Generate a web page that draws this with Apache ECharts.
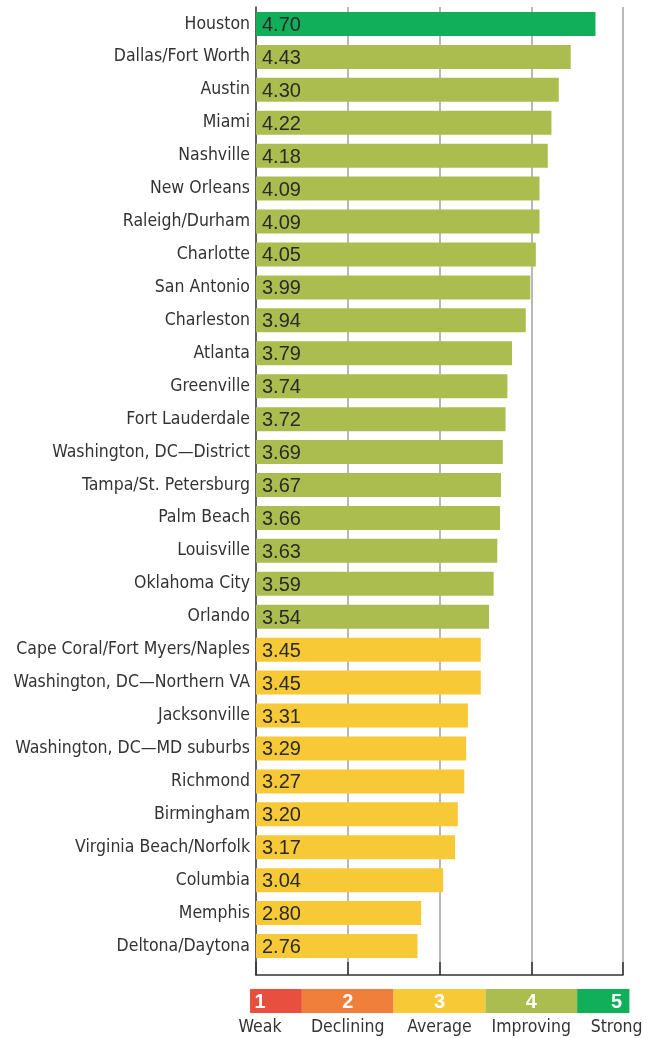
<!DOCTYPE html>
<html>
<head>
<meta charset="utf-8">
<script src="https://cdn.jsdelivr.net/npm/echarts@6/dist/echarts.min.js"></script>
<style>
	html, body { margin: 0; padding: 0; background: #fff; }
	#chart { width: 649px; height: 1038px; }
</style>
</head>
<body>
<div id="chart"></div>
<script>
var cities = ['Houston', 'Dallas/Fort Worth', 'Austin', 'Miami', 'Nashville', 'New Orleans',
	'Raleigh/Durham', 'Charlotte', 'San Antonio', 'Charleston', 'Atlanta', 'Greenville',
	'Fort Lauderdale', 'Washington, DC\u2014District', 'Tampa/St. Petersburg', 'Palm Beach',
	'Louisville', 'Oklahoma City', 'Orlando', 'Cape Coral/Fort Myers/Naples',
	'Washington, DC\u2014Northern VA', 'Jacksonville', 'Washington, DC\u2014MD suburbs',
	'Richmond', 'Birmingham', 'Virginia Beach/Norfolk', 'Columbia', 'Memphis', 'Deltona/Daytona'];
var scores = [4.70, 4.43, 4.30, 4.22, 4.18, 4.09, 4.09, 4.05, 3.99, 3.94, 3.79, 3.74, 3.72,
	3.69, 3.67, 3.66, 3.63, 3.59, 3.54, 3.45, 3.45, 3.31, 3.29, 3.27, 3.20, 3.17, 3.04, 2.80, 2.76];

// rating scale shown under the chart
var scaleBreaks = [0.935, 1.5, 2.5, 3.5, 4.5, 5.07];
var scaleNums = ['1', '2', '3', '4', '5'];
var scaleWords = ['Weak', 'Declining', 'Average', 'Improving', 'Strong'];
var scaleLabelAt = [1.044, 2, 3, 4, 4.93];
var scaleColors = ['#e84f3e', '#ef7f3a', '#f8c936', '#abbd4f', '#12af5b'];

var narrow = "'Liberation Sans Narrow', 'DejaVu Sans Condensed', sans-serif";

function colorFor(v) {
	for (var i = 0; i < scaleColors.length; i++) {
		if (v < scaleBreaks[i + 1]) return scaleColors[i];
	}
	return scaleColors[scaleColors.length - 1];
}

var scaleData = scaleNums.map(function (n, i) {
	return [scaleBreaks[i], scaleBreaks[i + 1], scaleLabelAt[i], i];
});

var myChart = echarts.init(document.getElementById('chart'));
var option = {
	animation: false,
	grid: [
		{ left: 256, right: 26, top: 7.5, height: 955, outerBoundsMode: 'none' },
		{ left: 256, right: 26, top: 7, height: 968, outerBoundsMode: 'none' },
		{ left: 256, right: 26, top: 989, height: 24, outerBoundsMode: 'none' }
	],
	xAxis: [
		{ gridIndex: 0, type: 'value', min: 1, max: 5, interval: 1, show: false },
		{
			gridIndex: 1, type: 'value', min: 1, max: 5, interval: 1,
			axisLine: { show: true, lineStyle: { color: '#333', width: 1.5 } },
			axisTick: { show: true, inside: true, length: 13, lineStyle: { color: '#333', width: 1.5 } },
			axisLabel: { show: false },
			splitLine: { show: true, lineStyle: { color: '#b8b8b8', width: 2 } }
		},
		{ gridIndex: 2, type: 'value', min: 1, max: 5, show: false }
	],
	yAxis: [
		{
			gridIndex: 0, type: 'category', data: cities, inverse: true,
			axisLine: { show: false }, axisTick: { show: false },
			axisLabel: { margin: 6, fontSize: 17.5, color: '#333', fontFamily: narrow }
		},
		{
			gridIndex: 1, type: 'value', min: 0, max: 1,
			axisLine: { show: true, lineStyle: { color: '#444', width: 1.5 } },
			axisTick: { show: false }, axisLabel: { show: false }, splitLine: { show: false }
		},
		{ gridIndex: 2, type: 'value', min: 0, max: 1, show: false }
	],
	series: [
		{
			type: 'bar',
			xAxisIndex: 0, yAxisIndex: 0,
			barWidth: 24,
			z: 3,
			data: scores.map(function (v) {
				return { value: v, itemStyle: { color: colorFor(v) } };
			}),
			label: {
				show: true, position: 'insideLeft', distance: 6, offset: [0, 1.5],
				fontSize: 20, color: '#2a2a2a', fontFamily: "'Liberation Sans', Arial, sans-serif",
				formatter: function (p) { return p.value.toFixed(2); }
			}
		},
		{
			type: 'custom',
			xAxisIndex: 2, yAxisIndex: 2,
			data: scaleData,
			renderItem: function (params, api) {
				var p0 = api.coord([api.value(0), 1]);
				var p1 = api.coord([api.value(1), 0]);
				var pc = api.coord([api.value(2), 0.5]);
				var pb = api.coord([api.value(2), 0]);
				var i = api.value(3);
				return {
					type: 'group',
					children: [
						{
							type: 'rect',
							shape: { x: p0[0], y: p0[1], width: p1[0] - p0[0], height: p1[1] - p0[1] },
							style: { fill: scaleColors[i] }
						},
						{
							type: 'text',
							style: {
								x: pc[0], y: pc[1] + 1, text: scaleNums[i], fill: '#fff',
								font: "bold 20px 'Liberation Sans', Arial, sans-serif",
								textAlign: 'center', textVerticalAlign: 'middle'
							}
						},
						{
							type: 'text',
							style: {
								x: pb[0], y: pb[1] + 5, text: scaleWords[i], fill: '#333',
								font: '17.5px ' + narrow,
								textAlign: 'center', textVerticalAlign: 'top'
							}
						}
					]
				};
			}
		}
	]
};
myChart.setOption(option);
</script>
</body>
</html>
